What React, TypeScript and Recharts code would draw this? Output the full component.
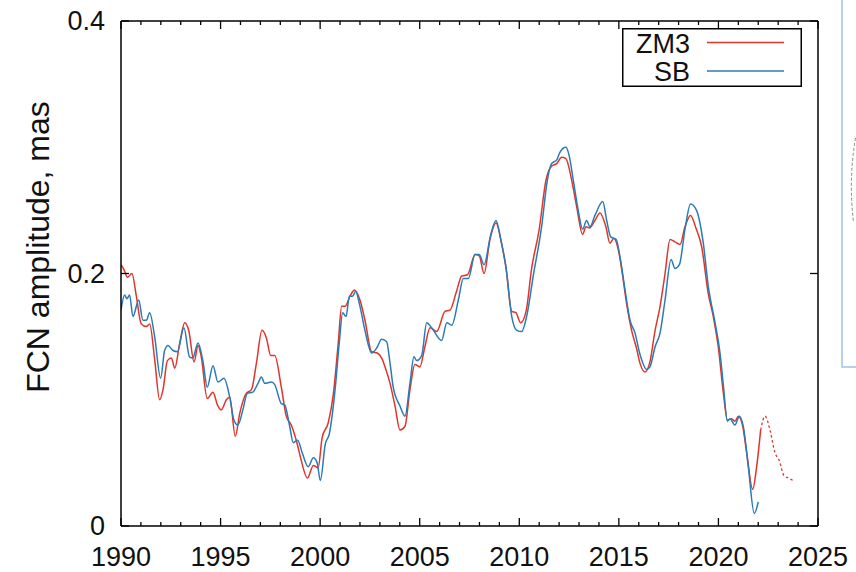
import { LineChart, Line, XAxis, YAxis } from "recharts";

// ZM3 series (solid red)
const zm3Years = [
  1990.0, 1990.15, 1990.32, 1990.55, 1990.77, 1991.02, 1991.27, 1991.44, 1991.69, 1991.94,
  1992.11, 1992.33, 1992.53, 1992.7, 1992.95, 1993.2, 1993.4, 1993.67, 1993.87, 1994.03,
  1994.33, 1994.62, 1994.84, 1995.04, 1995.29, 1995.46, 1995.74, 1995.96, 1996.29, 1996.55,
  1996.8, 1997.08, 1997.3, 1997.52, 1997.72, 1998.05, 1998.3, 1998.55, 1998.85, 1999.05,
  1999.36, 1999.66, 1999.9, 2000.1, 2000.41, 2000.66, 2000.91, 2001.08, 2001.25, 2001.5,
  2001.72, 2002.0, 2002.25, 2002.59, 2002.87, 2003.09, 2003.26, 2003.51, 2003.76, 2004.01,
  2004.26, 2004.51, 2004.76, 2005.01, 2005.26, 2005.52, 2005.85, 2006.27, 2006.52, 2006.85,
  2007.11, 2007.4, 2007.78, 2007.99, 2008.23, 2008.53, 2008.83, 2009.12, 2009.33, 2009.62,
  2009.83, 2010.07, 2010.34, 2010.62, 2011.0, 2011.34, 2011.62, 2011.88, 2012.13, 2012.34,
  2012.63, 2012.88, 2013.18, 2013.35, 2013.52, 2013.8, 2014.05, 2014.35, 2014.55, 2014.75,
  2014.97, 2015.22, 2015.39, 2015.64, 2015.9, 2016.06, 2016.31, 2016.56, 2016.82, 2017.07,
  2017.32, 2017.57, 2017.82, 2018.07, 2018.32, 2018.6, 2018.87, 2019.16, 2019.49, 2019.74,
  2019.99, 2020.25, 2020.45, 2020.66, 2020.83, 2021.0, 2021.22, 2021.42, 2021.72, 2021.92,
  2022.12,
];
const zm3Values = [
  0.207, 0.203, 0.197, 0.2, 0.182, 0.16, 0.158, 0.16, 0.132, 0.1,
  0.108, 0.131, 0.133, 0.125, 0.145, 0.161, 0.155, 0.13, 0.143, 0.134,
  0.101, 0.106, 0.096, 0.092, 0.1, 0.102, 0.071, 0.089, 0.105, 0.108,
  0.129, 0.155, 0.149, 0.135, 0.135, 0.11, 0.087, 0.08, 0.065, 0.052,
  0.038, 0.048, 0.046, 0.07, 0.082, 0.104, 0.145, 0.174, 0.174, 0.182,
  0.187, 0.179, 0.163, 0.138, 0.137, 0.133, 0.126, 0.113, 0.095, 0.076,
  0.079, 0.108, 0.128, 0.126, 0.142, 0.157, 0.154, 0.17, 0.171, 0.186,
  0.198, 0.199, 0.215, 0.214, 0.2, 0.227, 0.24, 0.223, 0.205, 0.17,
  0.169, 0.161, 0.17, 0.204, 0.235, 0.274, 0.285, 0.287, 0.292, 0.291,
  0.274, 0.253, 0.231, 0.237, 0.236, 0.242, 0.248, 0.237, 0.224, 0.228,
  0.219, 0.195, 0.176, 0.155, 0.14, 0.129, 0.122, 0.13, 0.155, 0.174,
  0.2, 0.227, 0.225, 0.223, 0.237, 0.246, 0.236, 0.221, 0.184, 0.166,
  0.142, 0.105, 0.084, 0.085, 0.083, 0.087, 0.079, 0.058, 0.029, 0.047,
  0.076,
];

// ZM3 prediction (dashed red)
const zm3ForecastYears = [2022.12, 2022.34, 2022.59, 2022.84, 2023.05, 2023.29, 2023.51, 2023.76];
const zm3ForecastValues = [0.076, 0.087, 0.076, 0.058, 0.052, 0.04, 0.038, 0.036];

// SB series (blue)
const sbYears = [
  1990.0, 1990.18, 1990.3, 1990.43, 1990.6, 1990.89, 1991.1, 1991.27, 1991.44, 1991.69,
  1991.99, 1992.19, 1992.36, 1992.61, 1992.83, 1993.16, 1993.44, 1993.6, 1993.87, 1994.12,
  1994.33, 1994.62, 1994.87, 1995.17, 1995.46, 1995.67, 1995.87, 1996.12, 1996.34, 1996.62,
  1996.88, 1997.05, 1997.22, 1997.55, 1997.72, 1998.05, 1998.22, 1998.47, 1998.65, 1998.87,
  1999.1, 1999.4, 1999.66, 1999.85, 2000.01, 2000.26, 2000.46, 2000.75, 2000.96, 2001.13,
  2001.3, 2001.47, 2001.63, 2001.78, 2002.0, 2002.25, 2002.59, 2002.84, 2003.09, 2003.34,
  2003.51, 2003.67, 2004.01, 2004.26, 2004.51, 2004.71, 2004.85, 2005.1, 2005.35, 2005.6,
  2006.1, 2006.36, 2006.61, 2006.94, 2007.19, 2007.44, 2007.78, 2007.99, 2008.23, 2008.57,
  2008.83, 2009.07, 2009.33, 2009.62, 2009.87, 2010.12, 2010.37, 2010.7, 2011.12, 2011.41,
  2011.62, 2011.88, 2012.04, 2012.34, 2012.51, 2012.71, 2012.96, 2013.18, 2013.38, 2013.55,
  2013.8, 2014.19, 2014.39, 2014.59, 2014.86, 2015.06, 2015.31, 2015.56, 2015.81, 2016.06,
  2016.4, 2016.56, 2016.82, 2017.07, 2017.32, 2017.62, 2017.82, 2018.04, 2018.32, 2018.6,
  2018.9, 2019.24, 2019.49, 2019.83, 2020.08, 2020.25, 2020.45, 2020.58, 2020.83, 2021.05,
  2021.26, 2021.5, 2021.8, 2022.0,
];
const sbValues = [
  0.171, 0.183, 0.18, 0.183, 0.166, 0.179, 0.163, 0.163, 0.169, 0.15,
  0.117, 0.139, 0.143, 0.139, 0.138, 0.157, 0.134, 0.133, 0.145, 0.13,
  0.11, 0.127, 0.114, 0.117, 0.102, 0.084, 0.08, 0.092, 0.105, 0.106,
  0.113, 0.118, 0.113, 0.114, 0.112, 0.097, 0.096, 0.079, 0.066, 0.068,
  0.058, 0.047, 0.054, 0.05, 0.036, 0.065, 0.073, 0.108, 0.145, 0.169,
  0.166, 0.182, 0.182, 0.186, 0.174, 0.155, 0.137, 0.141, 0.148, 0.146,
  0.129, 0.11, 0.095, 0.087, 0.113, 0.134, 0.131, 0.135, 0.161, 0.157,
  0.147, 0.161, 0.159, 0.179, 0.196, 0.196, 0.215, 0.215, 0.207, 0.231,
  0.242, 0.227, 0.205, 0.166, 0.155, 0.154, 0.166, 0.198, 0.237, 0.274,
  0.287, 0.29, 0.296, 0.3, 0.293, 0.274, 0.25, 0.235, 0.242, 0.237,
  0.246, 0.257, 0.242, 0.229, 0.227, 0.213, 0.187, 0.163, 0.153, 0.136,
  0.124, 0.126, 0.142, 0.153, 0.179, 0.211, 0.204, 0.207, 0.235, 0.255,
  0.25, 0.224, 0.19, 0.161, 0.137, 0.111, 0.083, 0.085, 0.08, 0.087,
  0.078, 0.047, 0.01, 0.019,
];

const xTicks = Array.from({ length: 36 }, (_, i) => 1990 + i);
const yTicks = [0, 0.2, 0.4];
const yTickLabels = ["0", "0.2", "0.4"];

const RED = "#e0352b";
const BLUE = "#2b7bb4";
const FONT = "'Liberation Sans', Arial, sans-serif";

const toPoints = (years: number[], values: number[]) =>
  years.map((year, i) => ({ year, value: values[i] }));

const zm3Data = toPoints(zm3Years, zm3Values);
const zm3ForecastData = toPoints(zm3ForecastYears, zm3ForecastValues);
const sbData = toPoints(sbYears, sbValues);

const BottomTick = (props: any) => {
  const { x, y, payload } = props;
  const major = payload.value % 5 === 0;
  return (
    <g>
      <line x1={x} x2={x} y1={y} y2={y - (major ? 8 : 4)} stroke="#000" strokeWidth={1.3} />
      {major && (
        <text x={x} y={y + 40} textAnchor="middle" fontSize={27} fontFamily={FONT} fill="#111">
          {payload.value}
        </text>
      )}
    </g>
  );
};

const TopTick = (props: any) => {
  const { x, y, payload } = props;
  const major = payload.value % 5 === 0;
  return <line x1={x} x2={x} y1={y} y2={y + (major ? 8 : 4)} stroke="#000" strokeWidth={1.3} />;
};

const LeftTick = (props: any) => {
  const { x, y, payload } = props;
  const idx = yTicks.indexOf(payload.value);
  return (
    <g>
      <line x1={x} x2={x + 8} y1={y} y2={y} stroke="#000" strokeWidth={1.3} />
      <text x={x - 16} y={y + 9} textAnchor="end" fontSize={27} fontFamily={FONT} fill="#111">
        {yTickLabels[idx]}
      </text>
    </g>
  );
};

const RightTick = (props: any) => {
  const { x, y } = props;
  return <line x1={x} x2={x - 8} y1={y} y2={y} stroke="#000" strokeWidth={1.3} />;
};

const YLabel = () => {
  const cy = 247;
  const cx = 38;
  return (
    <text
      x={cx}
      y={cy}
      transform={`rotate(-90 ${cx} ${cy})`}
      textAnchor="middle"
      dominantBaseline="central"
      fontSize={32}
      fontFamily={FONT}
      fill="#111"
    >
      FCN amplitude, mas
    </text>
  );
};

export default function App() {
  return (
    <div style={{ position: "absolute", left: 0, top: 0, width: 856, height: 572, background: "#fff" }}>
      <LineChart width={856} height={572} margin={{ top: 20, right: 37, bottom: 0, left: 0 }}>
        <XAxis
          xAxisId="bottom"
          type="number"
          dataKey="year"
          domain={[1990, 2025]}
          ticks={xTicks}
          interval={0}
          allowDataOverflow
          height={46}
          tickSize={0}
          tickMargin={0}
          tickLine={false}
          tick={<BottomTick />}
          axisLine={{ stroke: "#000", strokeWidth: 1.5 }}
        />
        <XAxis
          xAxisId="top"
          orientation="top"
          type="number"
          dataKey="year"
          domain={[1990, 2025]}
          ticks={xTicks}
          interval={0}
          allowDataOverflow
          height={1}
          tickSize={0}
          tickMargin={0}
          tickLine={false}
          tick={<TopTick />}
          axisLine={{ stroke: "#000", strokeWidth: 1.5 }}
        />
        <YAxis
          yAxisId="left"
          type="number"
          domain={[0, 0.4]}
          ticks={yTicks}
          interval={0}
          width={121}
          tickSize={0}
          tickMargin={0}
          tickLine={false}
          tick={<LeftTick />}
          axisLine={{ stroke: "#000", strokeWidth: 1.5 }}
          label={<YLabel />}
        />
        <YAxis
          yAxisId="right"
          orientation="right"
          type="number"
          domain={[0, 0.4]}
          ticks={yTicks}
          interval={0}
          allowDataOverflow
          width={1}
          tickSize={0}
          tickMargin={0}
          tickLine={false}
          tick={<RightTick />}
          axisLine={{ stroke: "#000", strokeWidth: 1.5 }}
        />
        {/* invisible series so that the top and right frame axes are drawn */}
        <Line
          data={sbData}
          xAxisId="top"
          yAxisId="right"
          dataKey="value"
          stroke="none"
          dot={false}
          activeDot={false}
          legendType="none"
          isAnimationActive={false}
        />
        <Line
          data={zm3Data}
          xAxisId="bottom"
          yAxisId="left"
          dataKey="value"
          type="monotone"
          stroke={RED}
          strokeWidth={1.5}
          dot={false}
          isAnimationActive={false}
        />
        <Line
          data={zm3ForecastData}
          xAxisId="bottom"
          yAxisId="left"
          dataKey="value"
          type="monotone"
          stroke={RED}
          strokeWidth={1.3}
          strokeDasharray="2.5 2.5"
          dot={false}
          isAnimationActive={false}
        />
        <Line
          data={sbData}
          xAxisId="bottom"
          yAxisId="left"
          dataKey="value"
          type="monotone"
          stroke={BLUE}
          strokeWidth={1.5}
          dot={false}
          isAnimationActive={false}
        />
      </LineChart>

      {/* legend box */}
      <svg style={{ position: "absolute", left: 622, top: 28 }} width={180} height={59}>
        <rect x={0.75} y={0.75} width={178.5} height={57.5} fill="#fff" stroke="#000" strokeWidth={1.5} />
        <text x={68} y={25} textAnchor="end" fontSize={27} fontFamily={FONT} fill="#111">ZM3</text>
        <line x1={85} x2={162} y1={14.5} y2={14.5} stroke={RED} strokeWidth={1.5} />
        <text x={68} y={53} textAnchor="end" fontSize={27} fontFamily={FONT} fill="#111">SB</text>
        <line x1={85} x2={162} y1={43} y2={43} stroke={BLUE} strokeWidth={1.5} />
      </svg>

      {/* edge of neighbouring panel */}
      <svg style={{ position: "absolute", left: 0, top: 0, pointerEvents: "none" }} width={856} height={572}>
        <rect x={842} y={-5} width={40} height={372} fill="none" stroke="#9cc2ea" strokeWidth={1.5} />
        <path d="M 855.5 138 A 291 291 0 0 0 853.5 222" fill="none" stroke="#888" strokeWidth={1} strokeDasharray="3 2" />
      </svg>
    </div>
  );
}
